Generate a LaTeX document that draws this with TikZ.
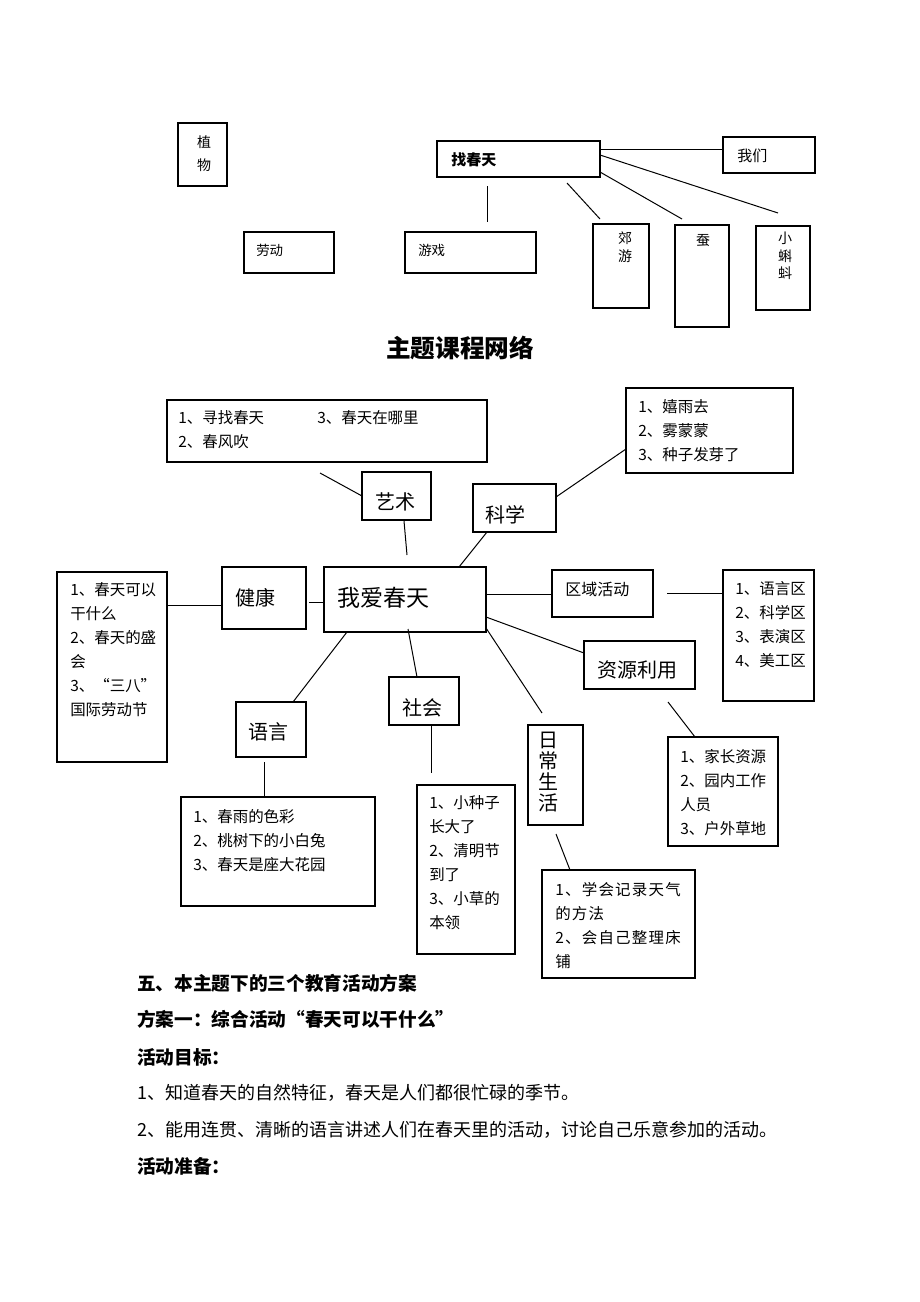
\documentclass[tikz,border=0pt]{standalone}
\usepackage{fontspec}
\setmainfont{Noto Sans CJK SC}
\usetikzlibrary{fit}
\newcommand\fsz[2]{\fontsize{#1pt}{#2pt}\selectfont}
\begin{document}
\begin{tikzpicture}[x=0.75pt,y=-0.75pt,
  box/.style={draw, line width=0.9pt, inner sep=0pt},
  link/.style={line width=0.75pt},
  lst/.style={anchor=north west, inner sep=0pt, align=left, font=\fsz{11.6}{18}},
  lbl/.style={anchor=west, inner sep=0pt},
  vtx/.style={anchor=north, inner sep=0pt, align=center}]
\fill[white] (0,0) rectangle (920,1302);
\useasboundingbox (0,0) rectangle (920,1302);

% ---------- top section ----------
\node[box, fit={(178,123)(227,186)}] (zhiwu) {};
\node[box, fit={(437,141)(600,177)}] (zhao) {};
\node[box, fit={(723,137)(815,173)}] (women) {};
\node[box, fit={(244,232)(334,273)}] (laodong) {};
\node[box, fit={(405,232)(536,273)}] (youxi) {};
\node[box, fit={(593,224)(649,308)}] (jiaoyou) {};
\node[box, fit={(675,225)(729,327)}] (can) {};
\node[box, fit={(756,226)(810,310)}] (kedou) {};

\node[vtx, font=\fsz{10.5}{17.5}] (zhiwu-t) at (204,135) {植\\物};
\node[lbl, font=\bfseries\fsz{11.25}{13}] (zhao-t) at (451,160) {找春天};
\node[lbl, font=\fsz{11.25}{13}] (women-t) at (737,156) {我们};
\node[lbl, font=\fsz{10.1}{12}] (laodong-t) at (256,250) {劳动};
\node[lbl, font=\fsz{10.1}{12}] (youxi-t) at (418,250) {游戏};
\node[vtx, font=\fsz{10.5}{13.5}] (jiaoyou-t) at (625,231) {郊\\游};
\node[vtx, font=\fsz{10.5}{13.5}] (can-t) at (703,234) {蚕};
\node[vtx, font=\fsz{10.5}{13}] (kedou-t) at (785,232) {小\\蝌\\蚪};

\coordinate (t1a) at (600,150); \coordinate (t1b) at (723,150);
\coordinate (t2a) at (487,186); \coordinate (t2b) at (487,222);
\coordinate (t3a) at (567,183); \coordinate (t3b) at (600,219);
\coordinate (t4a) at (600,172); \coordinate (t4b) at (682,219);
\coordinate (t5a) at (600,155); \coordinate (t5b) at (778,213);
\draw[link] (t1a) -- (t1b);
\draw[link] (t2a) -- (t2b);
\draw[link] (t3a) -- (t3b);
\draw[link] (t4a) -- (t4b);
\draw[link] (t5a) -- (t5b);

% ---------- title ----------
\node[font=\bfseries\fsz{18.5}{22}, inner sep=0pt] (title) at (460,348) {主题课程网络};

% ---------- network ----------
\node[box, fit={(167,400)(487,462)}] (yishulist) {};
\node[box, fit={(362,472)(431,520)}] (yishu) {};
\node[box, fit={(473,484)(556,532)}] (kexue) {};
\node[box, fit={(626,388)(793,473)}] (kexuelist) {};
\node[box, fit={(324,567)(486,632)}] (center) {};
\node[box, fit={(222,567)(306,629)}] (jiankang) {};
\node[box, fit={(57,572)(167,762)}] (leftlist) {};
\node[box, fit={(236,702)(306,757)}] (yuyan) {};
\node[box, fit={(389,677)(459,725)}] (shehui) {};
\node[box, fit={(552,570)(653,617)}] (quyu) {};
\node[box, fit={(723,570)(814,701)}] (quyulist) {};
\node[box, fit={(584,641)(695,689)}] (ziyuan) {};
\node[box, fit={(528,725)(583,825)}] (richang) {};
\node[box, fit={(668,737)(778,846)}] (ziyuanlist) {};
\node[box, fit={(181,797)(375,906)}] (yuyanlist) {};
\node[box, fit={(417,785)(515,954)}] (shehuilist) {};
\node[box, fit={(542,870)(695,978)}] (richanglist) {};

% labels
\node[lbl, font=\fsz{15}{17}] (yishu-t) at (375,502) {艺术};
\node[lbl, font=\fsz{15}{17}] (kexue-t) at (485,515) {科学};
\node[lbl, font=\fsz{17.25}{20}] (center-t) at (337,598) {我爱春天};
\node[lbl, font=\fsz{15}{17}] (jiankang-t) at (235,598) {健康};
\node[lbl, font=\fsz{15}{17}] (yuyan-t) at (248,732) {语言};
\node[lbl, font=\fsz{15}{17}] (shehui-t) at (402,708) {社会};
\node[lbl, font=\fsz{12}{14}] (quyu-t) at (565,589) {区域活动};
\node[lbl, font=\fsz{15}{17}] (ziyuan-t) at (597,670) {资源利用};
\node[vtx, font=\fsz{15}{15.75}] (richang-t) at (548,732) {日\\常\\生\\活};

% lists
\node[lst] (yishulist-a) at (178,410.5) {1、寻找春天\\2、春风吹};
\node[lbl, font=\fsz{11.6}{18}] (yishulist-b) at (317,418) {3、春天在哪里};
\node[lst] (kexuelist-t) at (638,399.5) {1、嬉雨去\\2、雾蒙蒙\\3、种子发芽了};
\node[lst] (leftlist-t) at (70,582.5) {1、春天可以\\干什么\\2、春天的盛\\会\\3、“三八”\\国际劳动节};
\node[lst] (quyulist-t) at (735,581.5) {1、语言区\\2、科学区\\3、表演区\\4、美工区};
\node[lst] (ziyuanlist-t) at (680,749.5) {1、家长资源\\2、园内工作\\人员\\3、户外草地};
\node[lst] (yuyanlist-t) at (193,809.5) {1、春雨的色彩\\2、桃树下的小白兔\\3、春天是座大花园};
\node[lst] (shehuilist-t) at (429,795.5) {1、小种子\\长大了\\2、清明节\\到了\\3、小草的\\本领};
\node[lst, font=\fsz{11.6}{18}\addfontfeature{LetterSpace=8}] (richanglist-t) at (555,882.5) {1、学会记录天气\\的方法\\2、会自己整理床\\铺};

% connectors
\coordinate (m1a) at (320,473); \coordinate (m1b) at (362,496);
\coordinate (m2a) at (404,521); \coordinate (m2b) at (407,555);
\coordinate (m3a) at (459,567); \coordinate (m3b) at (487,532);
\coordinate (m4a) at (556,497); \coordinate (m4b) at (626,449);
\coordinate (m5a) at (167,605); \coordinate (m5b) at (222,605);
\coordinate (m6a) at (309,602); \coordinate (m6b) at (324,602);
\coordinate (m7a) at (347,632); \coordinate (m7b) at (293,702);
\coordinate (m8a) at (408,629); \coordinate (m8b) at (417,677);
\coordinate (m9a) at (264,762); \coordinate (m9b) at (264,797);
\coordinate (m10a) at (431,725); \coordinate (m10b) at (431,773);
\coordinate (m11a) at (486,594); \coordinate (m11b) at (552,594);
\coordinate (m12a) at (667,593); \coordinate (m12b) at (723,593);
\coordinate (m13a) at (486,617); \coordinate (m13b) at (584,653);
\coordinate (m14a) at (486,628); \coordinate (m14b) at (542,713);
\coordinate (m15a) at (668,702); \coordinate (m15b) at (695,737);
\coordinate (m16a) at (556,834); \coordinate (m16b) at (570,870);
\foreach \i in {1,...,16} \draw[link] (m\i a) -- (m\i b);

% ---------- bottom text ----------
\node[lbl, font=\bfseries\fsz{14}{16}] (h1) at (137,983) {五、本主题下的三个教育活动方案};
\node[lbl, font=\bfseries\fsz{14}{16}] (h2) at (137,1019) {方案一：综合活动“春天可以干什么”};
\node[lbl, font=\bfseries\fsz{14}{16}] (h3) at (137,1057) {活动目标：};
\node[lbl, font=\fsz{13.5}{16}] (p1) at (137,1093) {1、知道春天的自然特征，春天是人们都很忙碌的季节。};
\node[lbl, font=\fsz{13.5}{16}] (p2) at (137,1130) {2、能用连贯、清晰的语言讲述人们在春天里的活动，讨论自己乐意参加的活动。};
\node[lbl, font=\bfseries\fsz{14}{16}] (h4) at (137,1166) {活动准备：};
\end{tikzpicture}
\end{document}
